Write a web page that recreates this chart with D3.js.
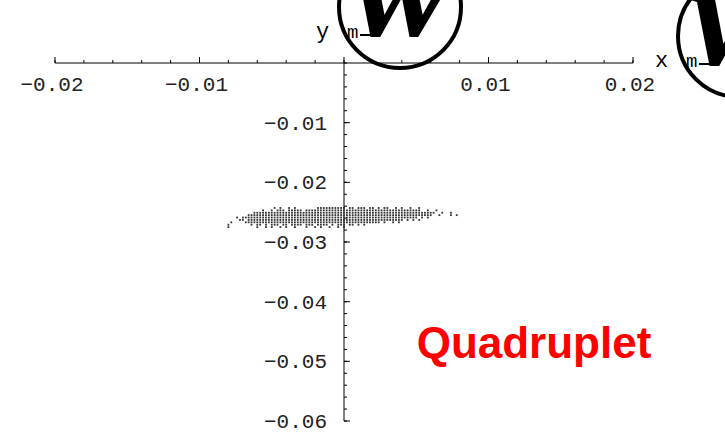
<!DOCTYPE html>
<html>
<head>
<meta charset="utf-8">
<style>
  body { margin: 0; background: #fff; }
  svg { display: block; }
</style>
</head>
<body>
<svg id="chart"></svg>
<script src="https://d3js.org/d3.v7.min.js"></script>
<script>
// axis ticks
var xMajor = [-0.02, -0.01, 0, 0.01, 0.02]
var yMajor = [-0.01, -0.02, -0.03, -0.04, -0.05, -0.06]
var xLabels = ['\u22120.02', '\u22120.01', '', '0.01', '0.02']
var yLabels = ['\u22120.01', '\u22120.02', '\u22120.03', '\u22120.04', '\u22120.05', '\u22120.06']

// scatter cloud
// each row: y value, x of first column, '#' = a dot every 0.0002
var rowY = [-0.0243, -0.0247, -0.0251, -0.0255, -0.0259, -0.0263, -0.0267, -0.0271, -0.0275]
var rowX0 = -0.0080
var rowDots = [
  '................#.#..#.#.......##########.##.###.##.#.##..#.#..#..#.',
  '............#..#.###.#####.########################################..#..#',
  '.........###############################################################..#..#',
  '.......################################################################..#...#.#',
  '...#.#############################################################.#.#',
  '....##.######################################################.#.#.#',
  '.#....###############################################.#..#.#',
  '#.......#.##.#.###.##.####.###.####.#.###.##.#.#',
  '#.........#..#.#..#.#..#...#..#.#..#..#.#'
]

var label = 'Quadruplet'

var width = 725, height = 433
var svg = d3.select('#chart').attr('width', width).attr('height', height)

var x = d3.scaleLinear().domain([-0.02, 0.02]).range([55, 633])
var y = d3.scaleLinear().domain([0, -0.06]).range([63, 421])

var minorX = d3.range(-0.02, 0.02001, 0.002)
var minorY = d3.range(0, -0.06001, -0.002)

// x axis, ticks pointing up
var xAxis = svg.append('g').attr('transform', 'translate(0,' + y(0) + ')')
xAxis.append('line').attr('x1', x(-0.02)).attr('x2', x(0.02)).attr('stroke', '#000')
xAxis.selectAll('.minor').data(minorX).enter().append('line')
  .attr('x1', d => x(d)).attr('x2', d => x(d))
  .attr('y1', 0).attr('y2', -3).attr('stroke', '#000')
xAxis.selectAll('.major').data(xMajor).enter().append('line')
  .attr('x1', d => x(d)).attr('x2', d => x(d))
  .attr('y1', 0).attr('y2', -6).attr('stroke', '#000')
xAxis.selectAll('text').data(xMajor).enter().append('text')
  .attr('x', d => x(d) - 3).attr('y', 28)
  .attr('text-anchor', 'middle')
  .attr('fill', '#222')
  .style('font-family', 'Liberation Mono, monospace').style('font-size', '21px')
  .text((d, i) => xLabels[i])

// y axis, ticks pointing right
var yAxis = svg.append('g').attr('transform', 'translate(' + x(0) + ',0)')
yAxis.append('line').attr('y1', y(0)).attr('y2', y(-0.06)).attr('stroke', '#000')
yAxis.selectAll('.minor').data(minorY).enter().append('line')
  .attr('y1', d => y(d)).attr('y2', d => y(d))
  .attr('x1', 0).attr('x2', 3).attr('stroke', '#000')
yAxis.selectAll('.major').data(yMajor).enter().append('line')
  .attr('y1', d => y(d)).attr('y2', d => y(d))
  .attr('x1', 0).attr('x2', 6).attr('stroke', '#000')
yAxis.selectAll('text').data(yMajor).enter().append('text')
  .attr('x', -17).attr('y', d => y(d) + 7)
  .attr('text-anchor', 'end')
  .attr('fill', '#222')
  .style('font-family', 'Liberation Mono, monospace').style('font-size', '21px')
  .text((d, i) => yLabels[i])

// the dot cloud
var pts = []
rowDots.forEach(function(s, r) {
  for (var i = 0; i < s.length; i++) {
    if (s[i] == '#') pts.push({x: rowX0 + i * 0.0002, y: rowY[r]})
  }
})
svg.selectAll('rect.dot').data(pts).enter().append('rect')
  .attr('class', 'dot')
  .attr('x', d => x(d.x) - 0.9).attr('y', d => y(d.y) - 0.9)
  .attr('width', 1.8).attr('height', 1.8)
  .attr('fill', '#333')

// axis name with the broken big glyph and circle
function axisName(letter, px, py) {
  var g = svg.append('g').attr('transform', 'translate(' + px + ',' + py + ')')
  g.append('text').attr('x', 0).attr('y', 0)
    .style('font-family', 'Liberation Mono, monospace').style('font-size', '22px')
    .text(letter)
  g.append('text').attr('x', 31).attr('y', 0)
    .style('font-family', 'Liberation Mono, monospace').style('font-size', '19px')
    .text('m')
  g.append('line').attr('x1', 44).attr('x2', 62).attr('y1', -3).attr('y2', -3)
    .attr('stroke', '#000').attr('stroke-width', 2)
  g.append('text').attr('x', 36).attr('y', -2)
    .style('font-family', 'Liberation Serif, serif').style('font-weight', 'bold')
    .style('font-style', 'italic').style('font-size', '150px')
    .text('w')
  g.append('circle').attr('cx', 84).attr('cy', -31).attr('r', 61)
    .attr('fill', 'none').attr('stroke', '#000').attr('stroke-width', 4)
}
axisName('y', 316, 38)
axisName('x', 655, 67)

svg.append('text').attr('x', 534).attr('y', 358)
  .attr('text-anchor', 'middle')
  .style('font-family', 'Liberation Sans, Arial, sans-serif')
  .style('font-weight', 'bold').style('font-size', '44px')
  .attr('fill', '#ff0000')
  .text(label)
</script>
</body>
</html>
